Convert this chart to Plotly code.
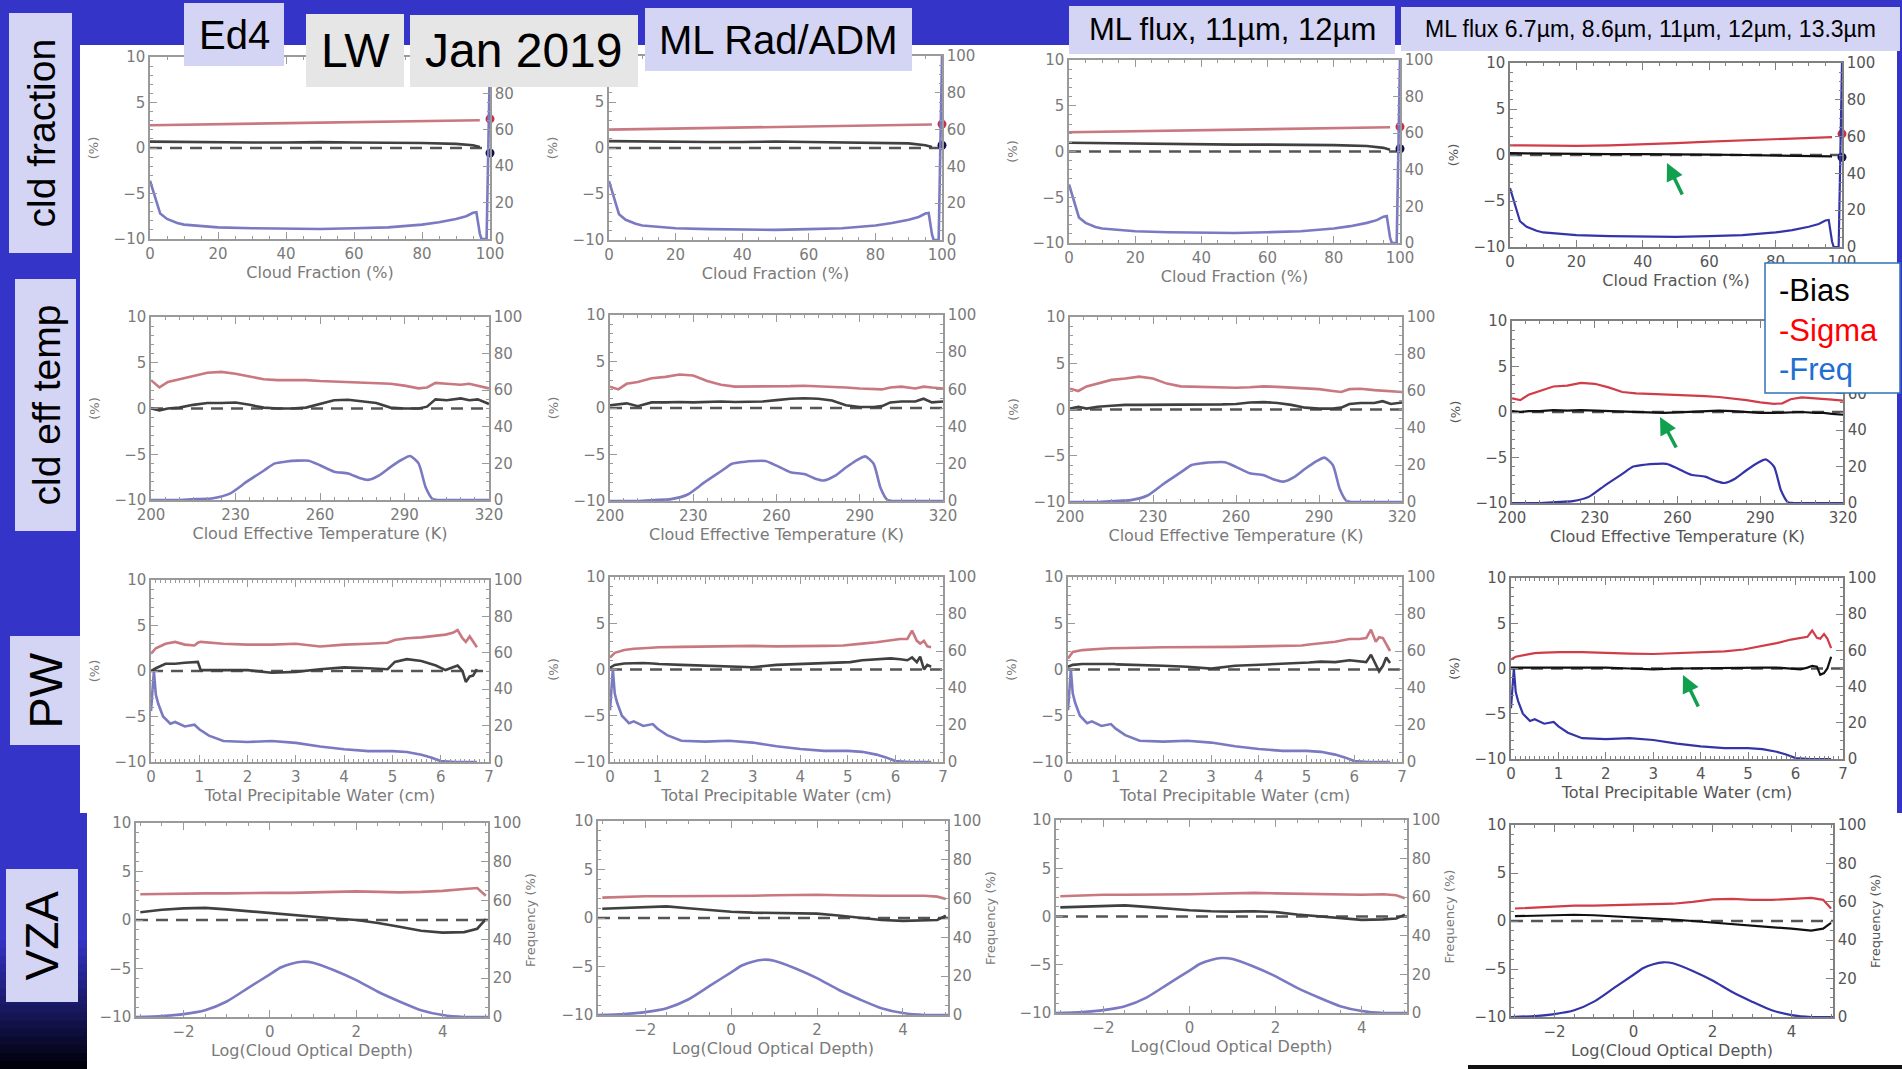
import plotly.graph_objects as go

W, H = 1902, 1069


def px(x):
    return x / W


def py(y):
    return 1 - y / H


# ---------------- DATA ----------------
# Row 1 : Cloud Fraction
cf_x = [0, 10, 20, 30, 40, 50, 60, 70, 80, 90, 95, 97]
cf_sigma = [
    [2.5, 2.55, 2.6, 2.65, 2.7, 2.75, 2.8, 2.85, 2.9, 3.0, 3.05, 3.05],
    [2.0, 2.05, 2.1, 2.15, 2.2, 2.25, 2.3, 2.35, 2.4, 2.5, 2.55, 2.55],
    [2.1, 2.15, 2.2, 2.25, 2.3, 2.35, 2.45, 2.5, 2.55, 2.6, 2.65, 2.65],
    [1.05, 1.0, 1.0, 1.05, 1.15, 1.3, 1.45, 1.6, 1.75, 1.9, 1.95, 1.95],
]
cf_bias = [
    [0.7, 0.65, 0.6, 0.6, 0.6, 0.65, 0.6, 0.6, 0.55, 0.45, 0.3, 0.1],
    [0.75, 0.7, 0.7, 0.65, 0.65, 0.7, 0.65, 0.6, 0.6, 0.5, 0.3, 0.1],
    [0.95, 0.9, 0.85, 0.8, 0.8, 0.75, 0.75, 0.75, 0.7, 0.6, 0.4, 0.2],
    [0.2, 0.15, 0.15, 0.1, 0.1, 0.1, 0.05, 0.0, -0.05, -0.1, -0.15, -0.15],
]
cf_end_x = 100
cf_sigma_end = [3.2, 2.6, 2.7, 2.3]
cf_bias_end = [-0.55, 0.3, 0.3, -0.25]
cf_freq_x = [0, 1, 2, 3, 5, 8, 10, 15, 20, 30, 40, 50, 60, 70, 80, 85, 90, 93, 95, 96, 97, 97.5, 99, 100]
cf_freq = [32, 26, 20, 14, 11, 8.8, 7.9, 7.0, 6.4, 5.9, 5.5, 5.5, 5.9, 6.4, 7.9, 9.2, 11, 12.5, 14.4, 14.7, 3, 0, 0, 100]

# Row 2 : Cloud Effective Temperature
cet_x = [200, 203, 206, 210, 215, 220, 225, 230, 235, 240, 245, 250, 255, 260,
         265, 270, 275, 280, 285, 290, 295, 298, 301, 305, 310, 313, 316, 320]
cet_sigma = [
    [3.1, 2.3, 2.9, 3.2, 3.6, 3.9, 4.0, 3.8, 3.5, 3.2, 3.1, 3.1, 3.1, 3.0,
     2.95, 2.85, 2.8, 2.8, 2.7, 2.5, 2.2, 2.3, 2.8, 2.7, 2.6, 2.7, 2.5, 2.2],
    [2.3, 2.0, 2.6, 2.8, 3.2, 3.35, 3.6, 3.5, 2.9, 2.5, 2.3, 2.3, 2.3, 2.3,
     2.35, 2.4, 2.35, 2.3, 2.2, 2.1, 2.0, 2.0, 2.2, 2.3, 2.1, 2.3, 2.2, 2.1],
    [2.25, 2.0, 2.5, 2.8, 3.2, 3.35, 3.55, 3.35, 2.8, 2.5, 2.45, 2.4, 2.4, 2.35,
     2.4, 2.5, 2.45, 2.35, 2.3, 2.2, 2.0, 1.9, 2.2, 2.25, 2.1, 2.05, 2.0, 1.9],
    [1.5, 1.3, 1.9, 2.3, 2.8, 2.9, 3.2, 3.1, 2.7, 2.2, 2.05, 2.0, 1.95, 1.9,
     1.8, 1.75, 1.65, 1.5, 1.3, 1.05, 0.9, 0.95, 1.4, 1.6, 1.45, 1.4, 1.35, 1.25],
]
cet_bias = [
    [0.0, -0.2, 0.0, 0.1, 0.4, 0.6, 0.6, 0.65, 0.4, 0.1, 0.0, 0.0, 0.1, 0.5,
     0.9, 0.95, 0.8, 0.6, 0.1, 0.0, 0.0, 0.2, 1.0, 0.9, 1.1, 0.9, 1.0, 0.5],
    [0.3, 0.4, 0.5, 0.2, 0.6, 0.6, 0.65, 0.6, 0.65, 0.7, 0.65, 0.65, 0.7, 0.85,
     1.0, 1.05, 1.0, 0.8, 0.3, 0.1, 0.1, 0.2, 0.6, 0.7, 0.7, 1.0, 0.6, 0.7],
    [0.1, 0.3, 0.1, 0.3, 0.4, 0.5, 0.5, 0.5, 0.5, 0.55, 0.5, 0.5, 0.55, 0.6,
     0.75, 0.8, 0.7, 0.5, 0.2, 0.1, 0.1, 0.2, 0.6, 0.7, 0.7, 0.9, 0.6, 0.75],
    [0.1, 0.0, 0.1, 0.1, 0.2, 0.15, 0.2, 0.15, 0.1, 0.1, 0.0, -0.05, -0.1, -0.05,
     0.0, 0.1, 0.15, 0.1, 0.0, -0.1, -0.1, -0.05, 0.0, 0.0, -0.1, -0.1, -0.2, -0.3],
]
cet_freq_x = [200, 210, 216, 222, 228, 234, 240, 244, 248, 252, 256, 260, 265,
              270, 274, 277, 281, 285, 289, 292, 295, 297.5, 300, 302, 310, 320]
cet_freq = [0, 0, 0.5, 1, 3.5, 10, 16, 20, 21, 21.5, 21.5, 19, 15.5,
            14.5, 12, 11, 13.5, 18, 22, 24, 20, 7, 0.5, 0, 0, 0]

# Row 3 : Total Precipitable Water
pw_x = [0, 0.1, 0.3, 0.5, 0.7, 0.9, 0.97, 1.03, 1.5, 2, 2.5, 3, 3.5, 4,
        4.5, 4.9, 5.05, 5.3, 5.6, 5.9, 6.1, 6.25, 6.35, 6.45, 6.52, 6.6, 6.67, 6.75]
pw_sigma = [
    [1.9, 2.5, 3.0, 3.2, 2.9, 2.8, 3.1, 3.2, 3.0, 2.9, 2.9, 3.0, 2.7, 2.9,
     3.0, 3.1, 3.4, 3.6, 3.7, 3.9, 4.0, 4.2, 4.5, 3.6, 3.2, 3.8, 3.2, 2.6],
    [1.3, 1.8, 2.1, 2.25, 2.3, 2.35, 2.4, 2.4, 2.45, 2.5, 2.5, 2.55, 2.5, 2.5,
     2.55, 2.6, 2.65, 2.8, 2.95, 3.2, 3.3, 3.3, 4.2, 3.1, 2.8, 3.1, 2.5, 2.4],
    [1.2, 1.9, 2.1, 2.2, 2.25, 2.3, 2.3, 2.3, 2.35, 2.4, 2.4, 2.45, 2.45, 2.5,
     2.55, 2.6, 2.7, 2.85, 3.0, 3.3, 3.3, 3.4, 4.3, 3.0, 3.5, 3.4, 2.7, 2.0],
    [1.0, 1.3, 1.5, 1.7, 1.75, 1.8, 1.8, 1.8, 1.8, 1.7, 1.65, 1.6, 1.7, 1.8,
     1.9, 2.1, 2.25, 2.5, 2.8, 3.2, 3.4, 3.5, 4.2, 3.4, 3.3, 3.8, 3.3, 2.25],
]
pw_bias = [
    [0.0, 0.3, 0.8, 0.8, 0.9, 1.0, 1.0, 0.1, 0.1, 0.1, -0.2, -0.1, 0.2, 0.4,
     0.3, 0.2, 1.0, 1.3, 1.1, 0.6, 0.1, 0.4, 0.6, 0.0, -1.2, -0.6, -0.5, 0.2],
    [0.2, 0.5, 0.65, 0.7, 0.7, 0.65, 0.6, 0.6, 0.5, 0.4, 0.3, 0.25, 0.5, 0.6,
     0.65, 0.75, 0.8, 1.0, 1.1, 1.2, 1.1, 1.0, 1.3, 0.8, 1.4, 0.0, 0.5, 0.3],
    [0.3, 0.5, 0.6, 0.6, 0.65, 0.6, 0.6, 0.55, 0.5, 0.4, 0.3, 0.1, 0.4, 0.5,
     0.6, 0.7, 0.75, 0.85, 0.8, 1.0, 0.9, 0.8, 1.6, 0.6, -0.2, 0.4, 1.3, 0.7],
    [0.1, 0.1, 0.1, 0.1, 0.1, 0.1, 0.1, 0.1, 0.1, 0.1, 0.0, -0.1, 0.0, 0.05,
     0.1, 0.1, 0.1, 0.1, 0.1, 0.0, -0.1, 0.1, 0.3, 0.2, -0.7, -0.5, 0.0, 1.3],
]
pw_freq_x = [0, 0.03, 0.06, 0.1, 0.15, 0.25, 0.4, 0.5, 0.7, 0.9, 1.0, 1.2, 1.5,
             2.0, 2.5, 3.0, 3.5, 4.0, 4.5, 5.0, 5.3, 5.6, 5.8, 6.0, 6.3, 6.75]
pw_freq = [28, 42, 50, 37, 32, 25, 21, 22, 19.5, 20.5, 18, 14.5, 11.5,
           11, 11.5, 10.5, 8.5, 7, 6, 6, 5.5, 4, 2.5, 0.5, 0, 0]

# Row 4 : Log(Cloud Optical Depth)
cod_x = [-3, -2.5, -2, -1.5, -1, -0.5, 0, 0.5, 1, 1.5, 2, 2.5, 3, 3.5, 4, 4.5, 4.8, 5]
cod_sigma = [
    [2.65, 2.7, 2.75, 2.75, 2.75, 2.8, 2.8, 2.8, 2.85, 2.9, 2.95, 2.9, 2.85, 2.9, 3.0, 3.2, 3.3, 2.5],
    [2.1, 2.2, 2.25, 2.25, 2.25, 2.25, 2.25, 2.3, 2.35, 2.4, 2.4, 2.35, 2.3, 2.3, 2.3, 2.3, 2.2, 1.95],
    [2.1, 2.2, 2.25, 2.25, 2.25, 2.3, 2.3, 2.35, 2.4, 2.45, 2.4, 2.35, 2.3, 2.25, 2.25, 2.3, 2.2, 1.9],
    [1.3, 1.4, 1.5, 1.6, 1.6, 1.65, 1.65, 1.7, 1.8, 2.0, 2.25, 2.3, 2.2, 2.2, 2.3, 2.4, 2.2, 1.3],
]
cod_bias = [
    [0.8, 1.05, 1.2, 1.25, 1.1, 0.9, 0.7, 0.5, 0.3, 0.15, 0.0, -0.3, -0.7, -1.1, -1.3, -1.25, -0.9, 0.1],
    [0.95, 1.05, 1.1, 1.2, 1.0, 0.8, 0.65, 0.55, 0.5, 0.5, 0.45, 0.25, 0.0, -0.2, -0.3, -0.25, -0.2, 0.25],
    [0.95, 1.0, 1.1, 1.15, 1.0, 0.8, 0.65, 0.55, 0.5, 0.55, 0.45, 0.2, 0.0, -0.2, -0.35, -0.3, -0.2, 0.2],
    [0.5, 0.55, 0.6, 0.65, 0.6, 0.5, 0.4, 0.25, 0.15, 0.0, -0.15, -0.3, -0.5, -0.65, -0.8, -1.0, -0.8, -0.2],
]
cod_freq_x = [-3.1, -2.5, -2, -1.5, -1, -0.5, 0, 0.25, 0.5, 0.75, 1.0, 1.5, 2.0, 2.5, 3.0, 3.5, 4.0, 4.5, 5.05]
cod_freq = [0, 0.5, 1.5, 3.5, 8, 15, 22, 25.5, 27.5, 28.5, 28, 24, 19, 13, 8, 3.5, 1, 0, 0]

row_titles = ["Cloud Fraction (%)", "Cloud Effective Temperature (K)",
              "Total Precipitable Water (cm)", "Log(Cloud Optical Depth)"]
col_headers = ["Ed4", "LW", "Jan 2019", "ML Rad/ADM", "ML flux, 11µm, 12µm",
               "ML flux 6.7µm, 8.6µm, 11µm, 12µm, 13.3µm"]
side_labels = ["cld fraction", "cld eff temp", "PW", "VZA"]
legend_labels = ["-Bias", "-Sigma", "-Freq"]

# ---------------- LAYOUT GEOMETRY ----------------
BOXES = [
    [(150, 490, 57, 239), (609, 942, 56, 240), (1069, 1400, 60, 243), (1510, 1842, 63, 247)],
    [(151, 489, 317, 500), (610, 943, 315, 501), (1070, 1402, 317, 502), (1512, 1843, 321, 503)],
    [(151, 489, 580, 762), (610, 943, 577, 762), (1068, 1402, 577, 762), (1511, 1843, 578, 759)],
    [(136, 488, 823, 1017), (598, 948, 821, 1015), (1056, 1407, 820, 1013), (1511, 1833, 825, 1017)],
]
ROWS = [
    dict(x=cf_x, s=cf_sigma, b=cf_bias, fx=cf_freq_x, f=cf_freq, rng=[0, 100], dt=20, t0=0, mdt=5,
         spline=False, ytitle="(%)", y2title=None),
    dict(x=cet_x, s=cet_sigma, b=cet_bias, fx=cet_freq_x, f=cet_freq, rng=[200, 320], dt=30, t0=200, mdt=5,
         spline=True, ytitle="(%)", y2title=None),
    dict(x=pw_x, s=pw_sigma, b=pw_bias, fx=pw_freq_x, f=pw_freq, rng=[0, 7], dt=1, t0=0, mdt=0.1,
         spline=False, ytitle="(%)", y2title=None),
    dict(x=cod_x, s=cod_sigma, b=cod_bias, fx=cod_freq_x, f=cod_freq, rng=[-3.1, 5.05], dt=2, t0=0, mdt=0.5,
         spline=True, ytitle=None, y2title="Frequency (%)"),
]

OLD = dict(sig="#c97880", bias="#404040", freq="#7a7ac2", axis="#9a9a9a", txt="#7a7a7a", w=2.6)
NEW = dict(sig="#d03c48", bias="#111111", freq="#3434a8", axis="#808080", txt="#555555", w=2.2)

BLUE = "#3434c8"
LAV = "#d4d4f4"
GREY = "#e6e6e6"
TICKFONT = "DejaVu Sans"
TXTFONT = "Liberation Sans"

fig = go.Figure()
layout = dict(width=W, height=H, margin=dict(l=0, r=0, t=0, b=0, pad=0, autoexpand=False),
              autosize=False, paper_bgcolor="white", plot_bgcolor="rgba(0,0,0,0)",
              showlegend=False, hovermode=False)
shapes = []
annotations = []

for r, row in enumerate(ROWS):
    for c in range(4):
        k = r * 4 + c
        st = NEW if c == 3 else OLD
        x0, x1, yt, yb = BOXES[r][c]
        xid = "x" if k == 0 else f"x{k + 1}"
        yl = "y" if k == 0 else f"y{2 * k + 1}"
        yr = f"y{2 * k + 2}"
        xkey = "xaxis" if k == 0 else f"xaxis{k + 1}"
        ylkey = "yaxis" if k == 0 else f"yaxis{2 * k + 1}"
        yrkey = f"yaxis{2 * k + 2}"
        tf = dict(family=TICKFONT, size=15, color=st["txt"])
        common = dict(showline=True, linecolor=st["axis"], linewidth=1.5, showgrid=False,
                      zeroline=False, ticks="inside", ticklen=7, tickwidth=1.2,
                      tickcolor=st["axis"], tickfont=tf, automargin=False)
        layout[xkey] = dict(
            domain=[px(x0), px(x1)], anchor=yl, range=row["rng"], dtick=row["dt"], tick0=row["t0"],
            mirror="ticks",
            minor=dict(ticks="inside", ticklen=3, dtick=row["mdt"], tick0=row["t0"],
                       tickcolor=st["axis"], tickwidth=1),
            title=dict(text=row_titles[r], font=dict(family=TICKFONT, size=16, color=st["txt"]),
                       standoff=2),
            **common)
        layout[ylkey] = dict(
            domain=[py(yb), py(yt)], anchor=xid, range=[-10, 10], dtick=5, tick0=0,
            minor=dict(ticks="inside", ticklen=3, dtick=1, tickcolor=st["axis"], tickwidth=1),
            title=dict(text=row["ytitle"] or "", font=dict(family=TICKFONT, size=13, color=st["txt"]),
                       standoff=12),
            **common)
        layout[yrkey] = dict(
            overlaying=yl, side="right", anchor=xid, range=[0, 100], dtick=20, tick0=0,
            minor=dict(ticks="inside", ticklen=3, dtick=5, tickcolor=st["axis"], tickwidth=1),
            title=dict(text=row["y2title"] or "", font=dict(family=TICKFONT, size=13, color=st["txt"]),
                       standoff=6),
            **common)

        # zero reference line
        shapes.append(dict(type="line", xref=f"{xid} domain", yref=yl, x0=0, x1=1, y0=0, y1=0,
                           line=dict(color="#555555", width=2.4, dash="12px,8px"), layer="below"))

        shape_f = dict(shape="spline", smoothing=0.6) if row["spline"] else dict(shape="linear")
        fig.add_trace(go.Scatter(x=row["fx"], y=row["f"], mode="lines", xaxis=xid, yaxis=yr,
                                 line=dict(color=st["freq"], width=st["w"], **shape_f),
                                 hoverinfo="skip"))
        fig.add_trace(go.Scatter(x=row["x"], y=row["s"][c], mode="lines", xaxis=xid, yaxis=yl,
                                 line=dict(color=st["sig"], width=st["w"]), hoverinfo="skip"))
        fig.add_trace(go.Scatter(x=row["x"], y=row["b"][c], mode="lines", xaxis=xid, yaxis=yl,
                                 line=dict(color=st["bias"], width=st["w"]), hoverinfo="skip"))
        if r == 0:
            fig.add_trace(go.Scatter(x=[cf_end_x, cf_end_x], y=[cf_sigma_end[c], cf_bias_end[c]],
                                     mode="markers", xaxis=xid, yaxis=yl, cliponaxis=False,
                                     marker=dict(color=["#c8304a", "#10104a"], size=9),
                                     hoverinfo="skip"))

# ---------------- PAGE DECORATION ----------------
def rect(x0, y0, x1, y1, fill, layer="below", line=None):
    d = dict(type="rect", xref="paper", yref="paper", x0=px(x0), x1=px(x1), y0=py(y1), y1=py(y0),
             fillcolor=fill, layer=layer, line=dict(width=0))
    if line:
        d["line"] = line
    return d


shapes.append(rect(0, 0, W, 45, BLUE))
shapes.append(rect(0, 0, 80, 814, BLUE))
shapes.append(rect(0, 813, 87, 941, BLUE))
shapes.append(rect(1897, 0, W, 813, BLUE))
nb = 16
for i in range(nb):
    t = (i + 0.5) / nb
    col = "rgb({0},{0},{1})".format(int(52 * (1 - t)), int(200 * (1 - t) + 6 * t))
    ya = 940 + i * (129 / nb)
    shapes.append(rect(0, ya, 87, ya + 129 / nb + 0.8, col))
shapes.append(rect(1468, 1065, W, H, "#111111", layer="above"))

# header boxes: (x0, y0, x1, y1, fill, font size)
HEAD = [(184, 3, 284, 66, LAV, 40), (306, 14, 404, 87, GREY, 48), (410, 15, 638, 87, GREY, 48),
        (645, 8, 912, 71, LAV, 40), (1069, 6, 1395, 54, LAV, 31), (1401, 7, 1900, 51, LAV, 23)]
for (x0, y0, x1, y1, fill, fs), txt in zip(HEAD, col_headers):
    shapes.append(rect(x0, y0, x1, y1, fill, layer="above"))
    annotations.append(dict(xref="paper", yref="paper", x=px((x0 + x1) / 2), y=py((y0 + y1) / 2),
                            text=txt, showarrow=False, xanchor="center", yanchor="middle",
                            font=dict(family=TXTFONT, size=fs, color="black")))

SIDE = [(9, 13, 72, 253, 39), (15, 279, 76, 531, 39), (10, 636, 80, 745, 47), (6, 869, 78, 1002, 46)]
for (x0, y0, x1, y1, fs), txt in zip(SIDE, side_labels):
    shapes.append(rect(x0, y0, x1, y1, LAV, layer="above"))
    annotations.append(dict(xref="paper", yref="paper", x=px((x0 + x1) / 2), y=py((y0 + y1) / 2),
                            text=txt, showarrow=False, textangle=-90, xanchor="center",
                            yanchor="middle", font=dict(family=TXTFONT, size=fs, color="black")))

# legend box
shapes.append(rect(1765, 263, 1900, 393, "white", layer="above",
                   line=dict(color="#2e75b6", width=1.5)))
for txt, yc, colr in zip(legend_labels, [290, 331, 369], ["#000000", "#ff0000", "#1f6fd0"]):
    annotations.append(dict(xref="paper", yref="paper", x=px(1777), y=py(yc), text=txt,
                            showarrow=False, xanchor="left", yanchor="middle",
                            font=dict(family=TXTFONT, size=31, color=colr)))

# green arrows (head, tail) in page pixels
ARROWS = [((1667, 163), (1683, 196)), ((1660, 417), (1677, 449)), ((1683, 675), (1699, 708))]
for (hx, hy), (tx, ty) in ARROWS:
    annotations.append(dict(xref="paper", yref="paper", x=px(hx), y=py(hy), ax=tx - hx, ay=ty - hy,
                            text="", showarrow=True, arrowhead=2, arrowsize=1, arrowwidth=3.5,
                            arrowcolor="#10a050"))

layout["shapes"] = shapes
layout["annotations"] = annotations
fig.update_layout(**layout)

PAGE_FIX = (
    "var d=document.documentElement,b=document.body;"
    "[d,b].forEach(function(e){e.style.margin='0';e.style.padding='0';e.style.overflow='hidden';"
    "e.style.width='1902px';e.style.height='1069px';});"
)
fig.write_html("out.html", config={"displayModeBar": False, "responsive": False},
               post_script=PAGE_FIX)
